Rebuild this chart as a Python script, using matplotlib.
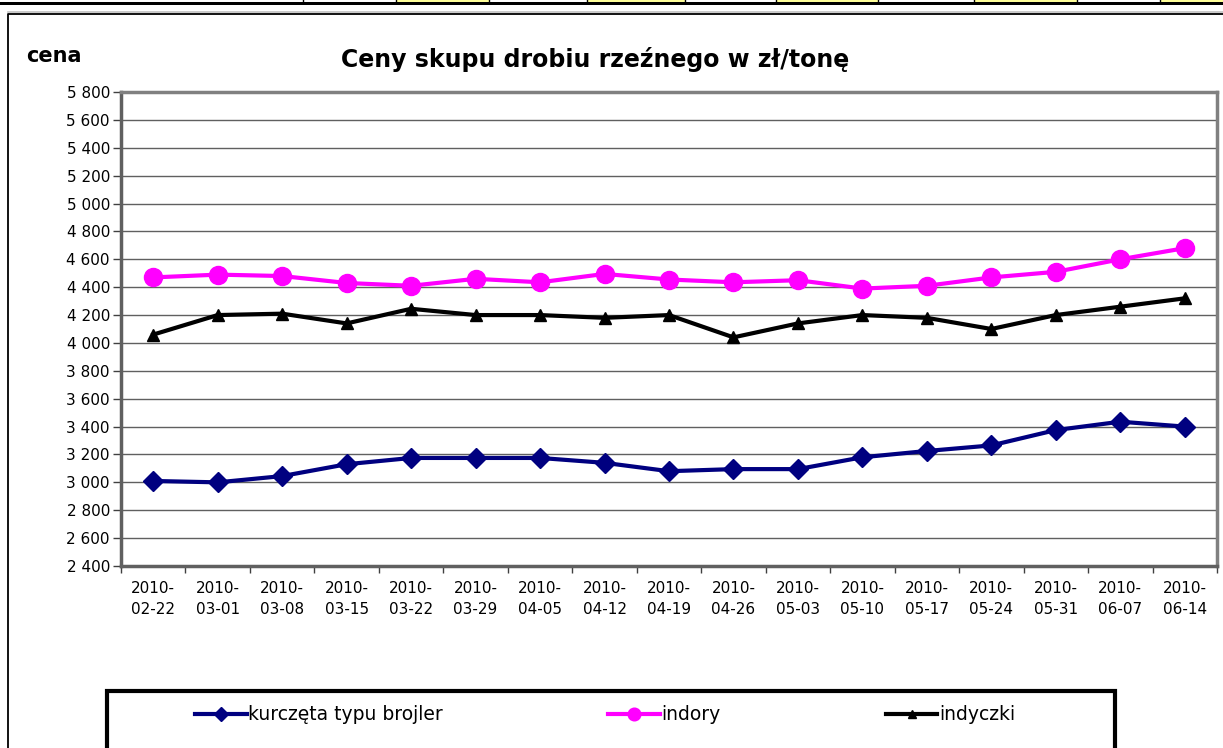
import matplotlib
matplotlib.use('Agg')
import matplotlib.pyplot as plt
from matplotlib.patches import Rectangle
from matplotlib.lines import Line2D
import numpy as np

plt.rcParams['font.family'] = ['DejaVu Sans']

# weekly dates (category axis)
dates = ['2010-\n02-22', '2010-\n03-01', '2010-\n03-08', '2010-\n03-15', '2010-\n03-22',
         '2010-\n03-29', '2010-\n04-05', '2010-\n04-12', '2010-\n04-19', '2010-\n04-26',
         '2010-\n05-03', '2010-\n05-10', '2010-\n05-17', '2010-\n05-24', '2010-\n05-31',
         '2010-\n06-07', '2010-\n06-14']

# prices in zl/tonne
kurczeta = [3010, 3000, 3045, 3130, 3175, 3175, 3175, 3140, 3080, 3095,
            3095, 3180, 3225, 3265, 3375, 3435, 3400]
indory = [4470, 4490, 4480, 4430, 4410, 4460, 4435, 4495, 4455, 4435,
          4450, 4390, 4410, 4470, 4510, 4600, 4680]
indyczki = [4060, 4200, 4210, 4140, 4245, 4200, 4200, 4180, 4200, 4040,
            4140, 4200, 4180, 4100, 4200, 4260, 4320]

series_names = ['kurczęta typu brojler', 'indory', 'indyczki']
y_ticks = list(range(2400, 5801, 200))

W, H = 1223, 748
fig = plt.figure(figsize=(W / 100, H / 100), dpi=100)

# spreadsheet strip on top of the picture (cell row + thick border)
fig.patches.append(Rectangle((0, 1 - 5 / H), 1, 3.5 / H, transform=fig.transFigure,
                             facecolor='black', edgecolor='none'))
for x0, x1 in [(396, 489), (587, 685), (776, 878), (974, 1077), (1160, 1223)]:
    fig.patches.append(Rectangle((x0 / W, 1 - 1.5 / H), (x1 - x0) / W, 1.5 / H,
                                 transform=fig.transFigure, facecolor='#FFFF99',
                                 edgecolor='none'))
for xs in [303, 396, 489, 587, 685, 776, 878, 974, 1077, 1160]:
    fig.add_artist(Line2D([xs / W, xs / W], [1 - 2 / H, 1], transform=fig.transFigure,
                          color='black', lw=1))

# chart area border
fig.add_artist(Line2D([8 / W, 1], [1 - 11.5 / H, 1 - 11.5 / H], transform=fig.transFigure,
                      color='#c0c0c0', lw=1.2))
fig.add_artist(Line2D([8 / W, 8 / W, 1], [0, 1 - 13.5 / H, 1 - 13.5 / H],
                      transform=fig.transFigure, color='black', lw=1.3))

ax = fig.add_axes([121 / W, 1 - 566 / H, (1217 - 121) / W, (566 - 92) / H])
x = np.arange(len(dates))

ax.plot(x, kurczeta, color='#000080', lw=3, marker='D', ms=10, label=series_names[0], zorder=3)
ax.plot(x, indory, color='#FF00FF', lw=3, marker='o', ms=13, label=series_names[1], zorder=3)
ax.plot(x, indyczki, color='black', lw=3, marker='^', ms=9, label=series_names[2], zorder=4)

ax.set_xlim(-0.5, len(dates) - 0.5)
ax.set_ylim(2400, 5800)
ax.set_yticks(y_ticks)
ax.set_yticklabels([f'{v:,}'.replace(',', ' ') for v in y_ticks], fontsize=11)
ax.yaxis.grid(True, color='#606060', lw=1)
ax.set_axisbelow(True)

# tick marks between categories, labels at the centres
ax.set_xticks(np.arange(-0.5, len(dates), 1))
ax.set_xticklabels([])
ax.set_xticks(x, minor=True)
ax.set_xticklabels(dates, minor=True, fontsize=11, linespacing=1.5)
ax.tick_params(axis='x', which='major', direction='out', length=5, width=1, color='#404040')
ax.tick_params(axis='x', which='minor', length=0, pad=11)
ax.tick_params(axis='y', direction='out', length=6, width=1, pad=2, color='#404040')

for side in ['top', 'right']:
    ax.spines[side].set_color('#808080')
    ax.spines[side].set_linewidth(2.5)
for side in ['left', 'bottom']:
    ax.spines[side].set_color('#606060')
    ax.spines[side].set_linewidth(2.5)

fig.text(595 / W, 1 - 67 / H, 'Ceny skupu drobiu rzeźnego w zł/tonę', ha='center',
         va='baseline', fontsize=17, fontweight='bold')
fig.text(26 / W, 1 - 62 / H, 'cena', ha='left', va='baseline', fontsize=15,
         fontweight='bold')

# legend box running off the bottom edge
fig.patches.append(Rectangle((107 / W, -0.05), (1115 - 107) / W, 0.05 + (748 - 691) / H,
                             transform=fig.transFigure, facecolor='white',
                             edgecolor='black', lw=3, zorder=1))
handles, labels = ax.get_legend_handles_labels()
fig.legend(handles, labels, loc='center left', bbox_to_anchor=(195 / W, 1 - 715 / H),
           ncol=3, frameon=False, fontsize=13.5, handlelength=2.75, handletextpad=0.1,
           columnspacing=8.8, borderpad=0, borderaxespad=0, markerscale=0.7)

fig.savefig('out.png', dpi=100)
